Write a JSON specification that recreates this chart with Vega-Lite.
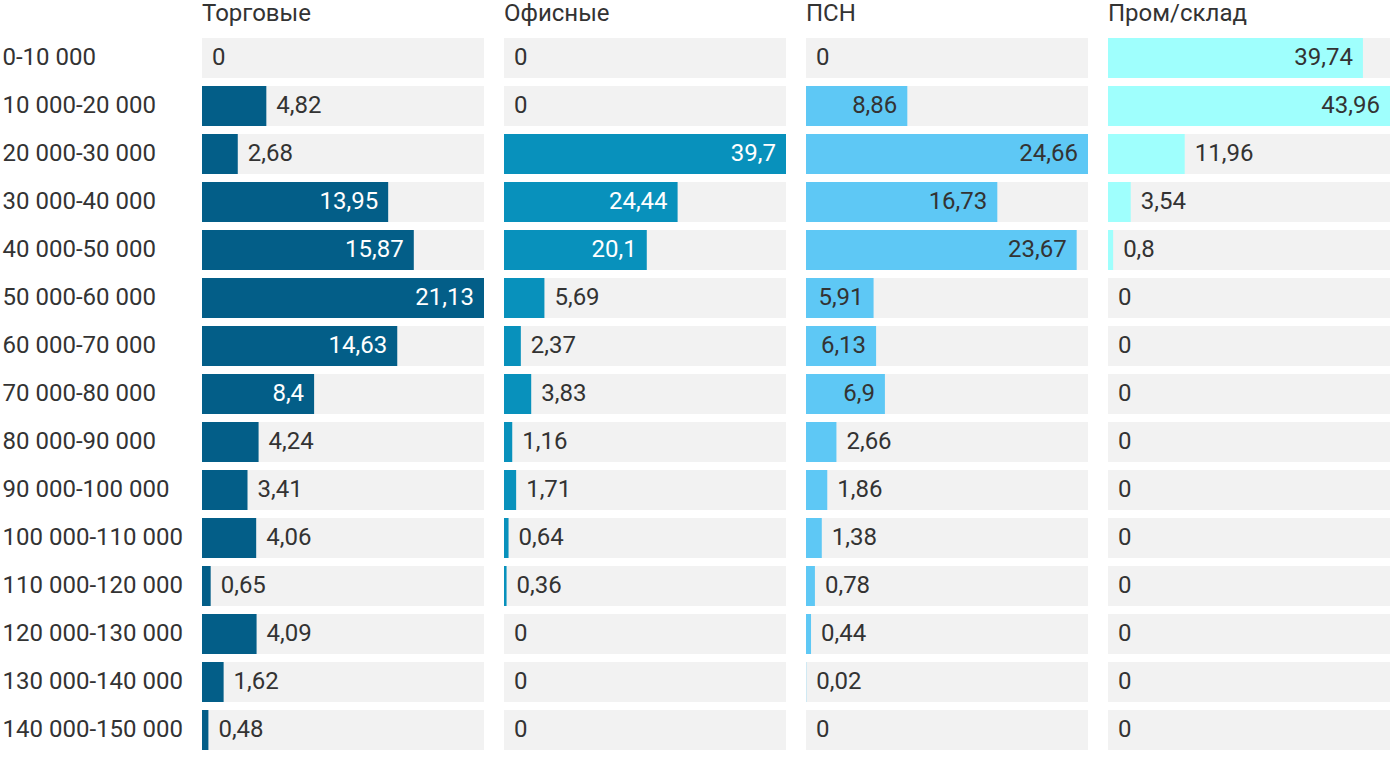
{
  "$schema": "https://vega.github.io/schema/vega-lite/v6.json",
  "padding": {"left": 2, "top": 2, "right": 0, "bottom": 0},
  "background": "white",
  "config": {"view": {"stroke": null}, "font": "Roboto", "text": {"font": "Roboto"}},
  "data": {"values": [
    {"r": "0-10 000", "Торговые": 0, "Офисные": 0, "ПСН": 0, "Пром/склад": 39.74},
    {"r": "10 000-20 000", "Торговые": 4.82, "Офисные": 0, "ПСН": 8.86, "Пром/склад": 43.96},
    {"r": "20 000-30 000", "Торговые": 2.68, "Офисные": 39.7, "ПСН": 24.66, "Пром/склад": 11.96},
    {"r": "30 000-40 000", "Торговые": 13.95, "Офисные": 24.44, "ПСН": 16.73, "Пром/склад": 3.54},
    {"r": "40 000-50 000", "Торговые": 15.87, "Офисные": 20.1, "ПСН": 23.67, "Пром/склад": 0.8},
    {"r": "50 000-60 000", "Торговые": 21.13, "Офисные": 5.69, "ПСН": 5.91, "Пром/склад": 0},
    {"r": "60 000-70 000", "Торговые": 14.63, "Офисные": 2.37, "ПСН": 6.13, "Пром/склад": 0},
    {"r": "70 000-80 000", "Торговые": 8.4, "Офисные": 3.83, "ПСН": 6.9, "Пром/склад": 0},
    {"r": "80 000-90 000", "Торговые": 4.24, "Офисные": 1.16, "ПСН": 2.66, "Пром/склад": 0},
    {"r": "90 000-100 000", "Торговые": 3.41, "Офисные": 1.71, "ПСН": 1.86, "Пром/склад": 0},
    {"r": "100 000-110 000", "Торговые": 4.06, "Офисные": 0.64, "ПСН": 1.38, "Пром/склад": 0},
    {"r": "110 000-120 000", "Торговые": 0.65, "Офисные": 0.36, "ПСН": 0.78, "Пром/склад": 0},
    {"r": "120 000-130 000", "Торговые": 4.09, "Офисные": 0, "ПСН": 0.44, "Пром/склад": 0},
    {"r": "130 000-140 000", "Торговые": 1.62, "Офисные": 0, "ПСН": 0.02, "Пром/склад": 0},
    {"r": "140 000-150 000", "Торговые": 0.48, "Офисные": 0, "ПСН": 0, "Пром/склад": 0}
  ]},
  "transform": [
    {"fold": ["Торговые", "Офисные", "ПСН", "Пром/склад"], "as": ["cat", "value"]},
    {"joinaggregate": [{"op": "max", "field": "value", "as": "maxv"}], "groupby": ["cat"]},
    {"calculate": "replace(toString(datum.value), '.', ',')", "as": "lbl"},
    {"calculate": "datum.value / datum.maxv * 282 > 13 * length(datum.lbl) + 14", "as": "inside"}
  ],
  "facet": {
    "column": {
      "field": "cat",
      "type": "nominal",
      "sort": ["Торговые", "Офисные", "ПСН", "Пром/склад"],
      "title": null,
      "header": {"labelFontSize": 24, "labelColor": "#333333", "labelFont": "Roboto", "labelAnchor": "start", "labelAlign": "left", "labelPadding": 8}
    }
  },
  "spacing": 20,
  "resolve": {"scale": {"x": "independent"}},
  "spec": {
    "width": 282,
    "height": 720,
    "encoding": {
      "y": {
        "field": "r", "type": "nominal",
        "sort": ["0-10 000", "10 000-20 000", "20 000-30 000", "30 000-40 000", "40 000-50 000", "50 000-60 000", "60 000-70 000", "70 000-80 000", "80 000-90 000", "90 000-100 000", "100 000-110 000", "110 000-120 000", "120 000-130 000", "130 000-140 000", "140 000-150 000"],
        "scale": {"paddingInner": 0.1667, "paddingOuter": 0.0833},
        "axis": {"title": null, "domain": false, "ticks": false, "labelAlign": "left", "labelPadding": 200, "labelFontSize": 24, "labelColor": "#333333", "labelFont": "Roboto", "labelLimit": 300}
      }
    },
    "layer": [
      {
        "mark": {"type": "bar", "color": "#f2f2f2"},
        "encoding": {"x": {"field": "maxv", "type": "quantitative", "scale": {"nice": false, "zero": true}, "axis": null}}
      },
      {
        "mark": {"type": "bar"},
        "encoding": {
          "x": {"field": "value", "type": "quantitative", "axis": null},
          "color": {"field": "cat", "type": "nominal", "legend": null,
            "scale": {"domain": ["Торговые", "Офисные", "ПСН", "Пром/склад"], "range": ["#035e88", "#0891bc", "#5ec8f5", "#9ffffd"]}}
        }
      },
      {
        "transform": [{"filter": "!datum.inside"}],
        "mark": {"type": "text", "align": "left", "dx": 10, "fontSize": 24, "font": "Roboto", "color": "#333333"},
        "encoding": {
          "x": {"field": "value", "type": "quantitative", "axis": null},
          "text": {"field": "lbl"}
        }
      },
      {
        "transform": [{"filter": "datum.inside"}],
        "mark": {"type": "text", "align": "right", "dx": -10, "fontSize": 24, "font": "Roboto"},
        "encoding": {
          "x": {"field": "value", "type": "quantitative", "axis": null},
          "text": {"field": "lbl"},
          "color": {"condition": {"test": "datum.cat === 'Торговые' || datum.cat === 'Офисные'", "value": "#ffffff"}, "value": "#333333"}
        }
      }
    ]
  }
}
